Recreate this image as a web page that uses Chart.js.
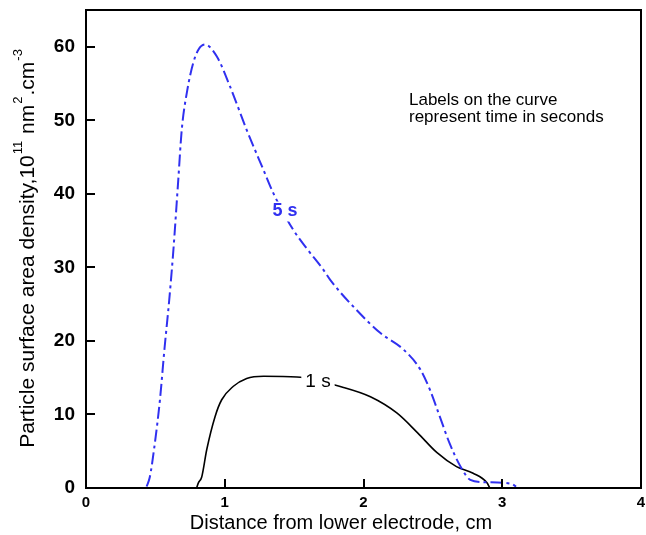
<!DOCTYPE html>
<html>
<head>
<meta charset="utf-8">
<style>
  html, body { margin: 0; padding: 0; background: #ffffff; }
  #wrap { width: 646px; height: 535px; }
</style>
<script src="https://cdn.jsdelivr.net/npm/chart.js@4/dist/chart.umd.min.js"></script>
</head>
<body>
<div id="wrap"><canvas id="c" width="646" height="535"></canvas></div>
<script>
// Particle surface area density profiles between the electrodes
const xTicks = [0, 1, 2, 3, 4];
const yTicks = [0, 10, 20, 30, 40, 50, 60];

// t = 5 s
const dist5s = [0.437, 0.46, 0.49, 0.533, 0.565, 0.60, 0.63, 0.665, 0.69, 0.73, 0.773, 0.81, 0.858,
                0.942, 1.038, 1.158, 1.278, 1.35, 1.494, 1.59, 1.71, 1.76, 1.95, 2.12, 2.29, 2.41,
                2.48, 2.55, 2.62, 2.70, 2.77, 2.86, 3.06, 3.10];
const dens5s = [0.2, 1.5, 5.2, 12.0, 18.8, 25.6, 32.4, 41.9, 48.7, 54.1, 57.8, 59.6, 60.3,
                58.7, 54.6, 48.7, 43.3, 40.1, 35.1, 32.6, 29.7, 28.3, 24.2, 21.1, 18.8, 16.1,
                13.3, 9.7, 6.1, 2.9, 1.1, 0.8, 0.6, 0.2];

// t = 1 s
const dist1s = [0.797, 0.81, 0.834, 0.87, 0.93, 0.978, 1.06, 1.158, 1.28, 1.52, 1.85, 2.05, 2.24,
                2.39, 2.53, 2.67, 2.79, 2.89, 2.91];
const dens1s = [0.0, 0.7, 1.5, 5.2, 9.7, 12.0, 13.8, 14.9, 15.2, 15.1, 13.7, 12.4, 10.2,
                7.5, 4.8, 2.9, 2.0, 0.7, 0.0];

// curve labels: text and anchor in data units
const curveLabels = [
  { text: '5 s', x: 1.434, y: 37.6, color: '#3030f0', font: 'bold 18px Arial, "Liberation Sans", sans-serif' },
  { text: '1 s', x: 1.672, y: 14.4, color: '#000000', font: '19px Arial, "Liberation Sans", sans-serif' }
];
const noteLines = ['Labels on the curve', 'represent time in seconds'];
const xTitle = 'Distance from lower electrode, cm';
const yTitleParts = [
  ['Particle surface area density,10', false],
  ['11', true],
  [' nm', false],
  ['2', true],
  ['.cm', false],
  ['-3', true]
];

const FONT = 'Arial, "Liberation Sans", sans-serif';
const toXY = (xs, ys) => xs.map((x, i) => ({ x: x, y: ys[i] }));

const decorations = {
  id: 'decorations',
  afterDatasetsDraw(chart) {
    const { ctx, chartArea: a, scales } = chart;
    const xs = scales.x, ys = scales.y;
    ctx.save();

    // curve labels with a white knock-out behind them
    curveLabels.forEach(l => {
      ctx.font = l.font;
      const px = xs.getPixelForValue(l.x), py = ys.getPixelForValue(l.y);
      const w = ctx.measureText(l.text).width;
      ctx.fillStyle = '#ffffff';
      ctx.fillRect(px - w / 2 - 4, py - 10, w + 8, 20);
      ctx.fillStyle = l.color;
      ctx.textAlign = 'center';
      ctx.textBaseline = 'middle';
      ctx.fillText(l.text, px, py);
    });

    // plot frame
    ctx.strokeStyle = '#000000';
    ctx.lineWidth = 2;
    ctx.strokeRect(a.left, a.top, a.right - a.left, a.bottom - a.top);

    // inward tick marks
    ctx.beginPath();
    xTicks.forEach(v => {
      const px = Math.round(xs.getPixelForValue(v));
      ctx.moveTo(px, a.bottom);
      ctx.lineTo(px, a.bottom - 9);
    });
    yTicks.forEach(v => {
      const py = Math.round(ys.getPixelForValue(v));
      ctx.moveTo(a.left, py);
      ctx.lineTo(a.left + 9, py);
    });
    ctx.stroke();

    // note text
    ctx.fillStyle = '#000000';
    ctx.font = '17px ' + FONT;
    ctx.textAlign = 'left';
    ctx.textBaseline = 'middle';
    ctx.fillText(noteLines[0], 409, 100);
    ctx.fillText(noteLines[1], 409, 117);

    // x axis title
    ctx.font = '20px ' + FONT;
    ctx.textAlign = 'center';
    ctx.fillText(xTitle, 341, 523);

    // y axis title with superscripts, rotated
    const normalFont = '21px ' + FONT, supFont = '13px ' + FONT;
    const gap = 1;
    let total = 0;
    yTitleParts.forEach(([t, sup]) => {
      ctx.font = sup ? supFont : normalFont;
      total += ctx.measureText(t).width + (sup ? 2 * gap : 0);
    });
    ctx.translate(28, 248);
    ctx.rotate(-Math.PI / 2);
    ctx.textAlign = 'left';
    ctx.textBaseline = 'middle';
    let cx = -total / 2;
    yTitleParts.forEach(([t, sup]) => {
      ctx.font = sup ? supFont : normalFont;
      if (sup) cx += gap;
      ctx.fillText(t, cx, sup ? -10 : 0);
      cx += ctx.measureText(t).width + (sup ? gap : 0);
    });
    ctx.restore();
  }
};

new Chart(document.getElementById('c'), {
  type: 'line',
  data: {
    datasets: [
      {
        label: '5 s',
        data: toXY(dist5s, dens5s),
        borderColor: '#3030f0',
        borderWidth: 2,
        borderDash: [12, 4, 3, 4],
        pointRadius: 0,
        cubicInterpolationMode: 'monotone',
        fill: false
      },
      {
        label: '1 s',
        data: toXY(dist1s, dens1s),
        borderColor: '#000000',
        borderWidth: 1.6,
        pointRadius: 0,
        cubicInterpolationMode: 'monotone',
        fill: false
      }
    ]
  },
  plugins: [decorations],
  options: {
    responsive: false,
    animation: false,
    events: [],
    layout: { autoPadding: false, padding: { left: 0, right: 5, top: 10, bottom: 0 } },
    plugins: { legend: { display: false }, tooltip: { enabled: false } },
    scales: {
      x: {
        type: 'linear',
        min: 0, max: 4,
        grid: { display: false, drawTicks: false },
        border: { display: false },
        afterBuildTicks: s => { s.ticks = xTicks.map(v => ({ value: v })); },
        afterFit: s => { s.height = 47; s.paddingLeft = 0; s.paddingRight = 0; },
        ticks: {
          padding: 6,
          color: '#000000',
          maxRotation: 0,
          font: { family: FONT, size: 15, weight: 'bold' },
          callback: v => String(v)
        }
      },
      y: {
        type: 'linear',
        min: 0, max: 65,
        grid: { display: false, drawTicks: false },
        border: { display: false },
        afterBuildTicks: s => { s.ticks = yTicks.map(v => ({ value: v })); },
        afterFit: s => { s.width = 86; s.paddingTop = 0; s.paddingBottom = 0; },
        ticks: {
          padding: 11,
          color: '#000000',
          font: { family: FONT, size: 19, weight: 'bold' },
          callback: v => String(v)
        }
      }
    }
  }
});
</script>
</body>
</html>
